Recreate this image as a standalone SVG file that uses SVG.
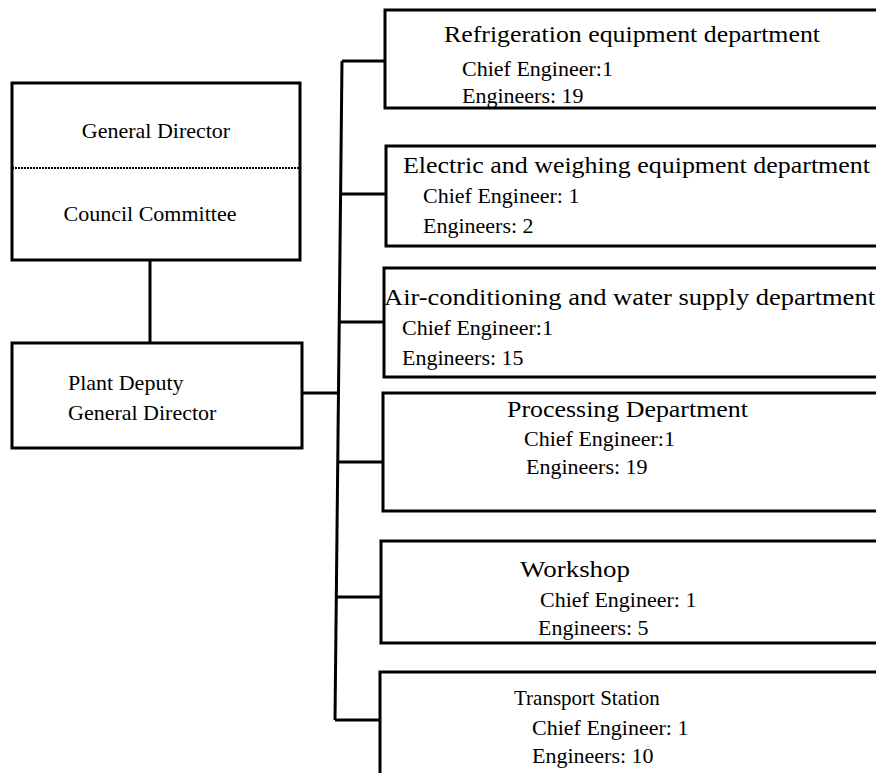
<svg xmlns="http://www.w3.org/2000/svg" width="876" height="773" viewBox="0 0 876 773">
<style>
.box{fill:#fff;stroke:#000;stroke-width:3}
.ln{fill:none;stroke:#000;stroke-width:3}
text{font-family:"Liberation Serif","Times New Roman",serif;font-size:22px;fill:#000}
.t{font-size:23px}
</style>
<rect width="876" height="773" fill="#fff"/>
<g id="connectors">
<line class="ln" x1="150" y1="260" x2="150" y2="343"/>
<line class="ln" x1="302" y1="393" x2="339" y2="393"/>
<line class="ln" x1="342" y1="61" x2="335" y2="720"/>
<line class="ln" x1="342" y1="61" x2="385" y2="61"/>
<line class="ln" x1="341" y1="194" x2="386" y2="194"/>
<line class="ln" x1="340" y1="322" x2="384" y2="322"/>
<line class="ln" x1="338" y1="462" x2="383" y2="462"/>
<line class="ln" x1="337" y1="597" x2="381" y2="597"/>
<line class="ln" x1="335" y1="720" x2="380" y2="720"/>
</g>
<g id="general-director">
<rect class="box" x="12" y="83" width="288" height="177"/>
<line x1="12" y1="168" x2="300" y2="168" stroke="#000" stroke-width="2" stroke-dasharray="2,1"/>
<text x="156" y="138" text-anchor="middle">General Director</text>
<text x="150" y="221" text-anchor="middle">Council Committee</text>
</g>
<g id="deputy">
<rect class="box" x="12" y="343" width="290" height="105"/>
<text x="68" y="390">Plant Deputy</text>
<text x="68" y="420">General Director</text>
</g>
<g id="refrigeration">
<rect class="box" x="385" y="10" width="520" height="98"/>
<text class="t" x="444" y="42" textLength="376" lengthAdjust="spacingAndGlyphs">Refrigeration equipment department</text>
<text x="462" y="76">Chief Engineer:1</text>
<text x="462" y="103">Engineers: 19</text>
</g>
<g id="electric">
<rect class="box" x="386" y="146" width="520" height="100"/>
<text class="t" x="403" y="173" textLength="467" lengthAdjust="spacingAndGlyphs">Electric and weighing equipment department</text>
<text x="423" y="203">Chief Engineer: 1</text>
<text x="423" y="233">Engineers: 2</text>
</g>
<g id="aircon">
<rect class="box" x="384" y="268" width="520" height="109"/>
<text class="t" x="384" y="305" textLength="491" lengthAdjust="spacingAndGlyphs">Air-conditioning and water supply department</text>
<text x="402" y="335">Chief Engineer:1</text>
<text x="402" y="365">Engineers: 15</text>
</g>
<g id="processing">
<rect class="box" x="383" y="393" width="520" height="118"/>
<text class="t" x="507" y="417" textLength="241" lengthAdjust="spacingAndGlyphs">Processing Department</text>
<text x="524" y="446">Chief Engineer:1</text>
<text x="526" y="474">Engineers: 19</text>
</g>
<g id="workshop">
<rect class="box" x="381" y="541" width="520" height="102"/>
<text class="t" x="520" y="577" textLength="110" lengthAdjust="spacingAndGlyphs">Workshop</text>
<text x="540" y="607">Chief Engineer: 1</text>
<text x="538" y="635">Engineers: 5</text>
</g>
<g id="transport">
<rect class="box" x="380" y="672" width="520" height="140"/>
<text x="514" y="705" style="font-size:21px">Transport Station</text>
<text x="532" y="735">Chief Engineer: 1</text>
<text x="532" y="763">Engineers: 10</text>
</g>
</svg>
